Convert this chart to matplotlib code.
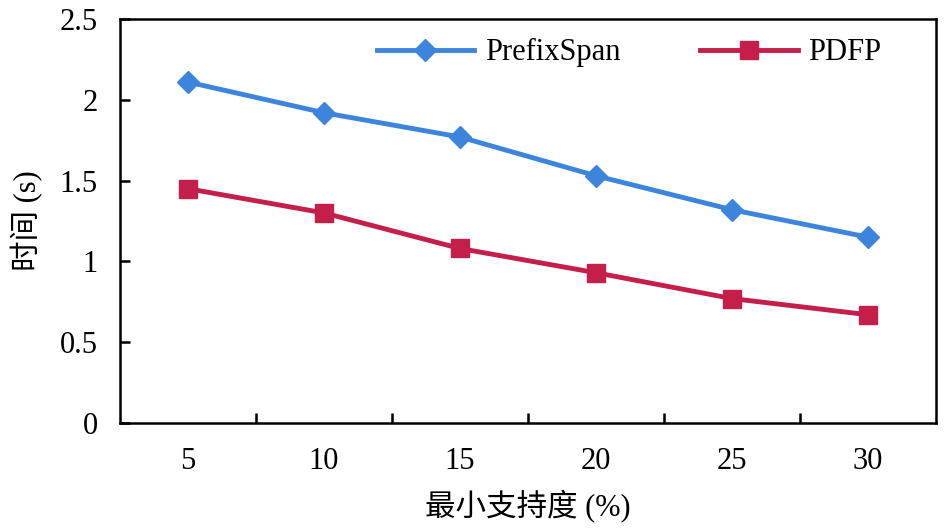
import matplotlib
matplotlib.use("Agg")
import matplotlib.pyplot as plt

categories = ["5", "10", "15", "20", "25", "30"]
prefixspan = [2.11, 1.92, 1.77, 1.53, 1.32, 1.15]
pdfp = [1.45, 1.30, 1.08, 0.93, 0.77, 0.67]
yticks = [0, 0.5, 1, 1.5, 2, 2.5]
ytick_labels = ["0", "0.5", "1", "1.5", "2", "2.5"]

plt.rcParams['font.family'] = ['Liberation Serif', 'Noto Sans CJK SC']

fig = plt.figure(figsize=(9.46, 5.29), dpi=100)
ax = fig.add_axes([0.1268, 0.2004, 0.8626, 0.7636])

x = list(range(len(categories)))
ax.plot(x, prefixspan, color='#3D85DC', lw=3.5, marker='D', markersize=11,
        label='PrefixSpan')
ax.plot(x, pdfp, color='#C41E4A', lw=3.5, marker='s', markersize=13,
        label='PDFP')

ax.set_xlim(-0.5, len(categories) - 0.5)
ax.set_ylim(0, 2.5)
ax.set_yticks(yticks)
ax.set_yticklabels(ytick_labels)
ax.set_xticks([i + 0.5 for i in range(len(categories) - 1)])
ax.set_xticklabels([])
ax.set_xticks(x, minor=True)
ax.set_xticklabels(categories, minor=True)
ax.tick_params(axis='x', which='major', direction='in', length=7, width=1.8)
ax.tick_params(axis='x', which='minor', length=0, pad=17, labelsize=22)
ax.tick_params(axis='y', direction='in', length=7, width=1.8, pad=16, labelsize=22)
for s in ax.spines.values():
    s.set_linewidth(1.8)

ax.set_xlabel('最小支持度 (%)', fontsize=22, labelpad=10,
              family=['Liberation Serif', 'Noto Sans CJK SC'])
ax.set_ylabel('时间 (s)', fontsize=22, labelpad=12,
              family=['Liberation Serif', 'Noto Sans CJK SC'])

ax.legend(loc='upper right', ncol=2, frameon=False, fontsize=22,
          handlelength=3.2, columnspacing=2.6, handletextpad=0.35,
          bbox_to_anchor=(0.967, 1.02))

fig.savefig('out.png', dpi=100)
